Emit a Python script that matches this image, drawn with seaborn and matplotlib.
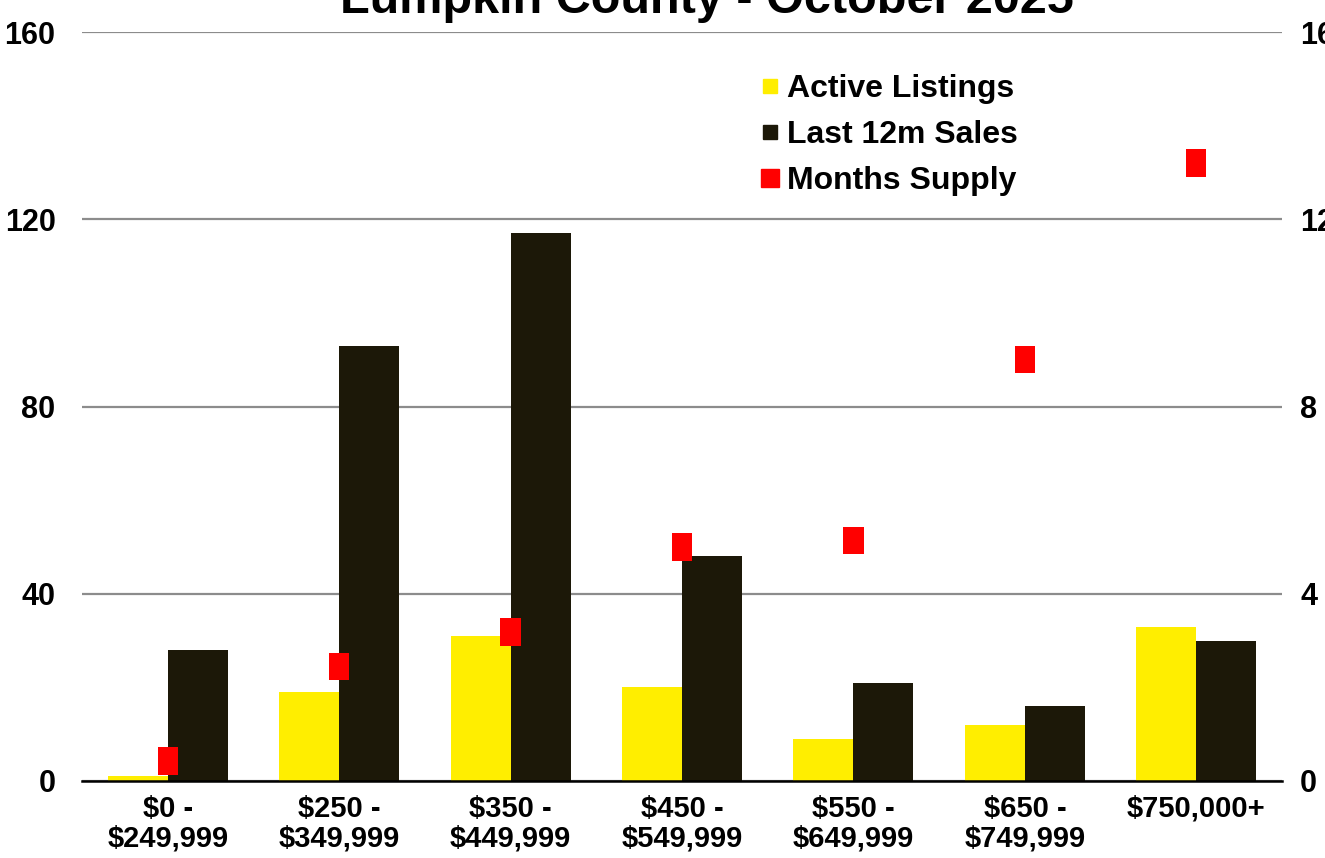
import matplotlib
matplotlib.use("Agg")
import matplotlib.pyplot as plt
from matplotlib.lines import Line2D
from matplotlib.path import Path
from matplotlib.ticker import FixedLocator
import seaborn as sns
import pandas as pd

categories = ["$0 -\n$249,999", "$250 -\n$349,999", "$350 -\n$449,999", "$450 -\n$549,999",
              "$550 -\n$649,999", "$650 -\n$749,999", "$750,000+"]
active_listings = [1, 19, 31, 20, 9, 12, 33]
last_12m_sales = [28, 93, 117, 48, 21, 16, 30]
months_supply = [0.43, 2.45, 3.18, 5.0, 5.14, 9.0, 13.2]
left_ticks = [0, 40, 80, 120, 160]
right_ticks = [0, 4, 8, 12, 16]
title = "Lumpkin County - October 2025"

YELLOW = "#FFEE00"
BLACK = "#1C1808"
RED = "#FF0000"

sns.set_theme(style="white")
plt.rcParams['font.family'] = ['Liberation Sans', 'DejaVu Sans']
plt.rcParams['text.color'] = 'black'

df = pd.DataFrame({
    "Range": categories * 2,
    "Value": active_listings + last_12m_sales,
    "Series": ["Active Listings"] * len(categories) + ["Last 12m Sales"] * len(categories),
})

fig = plt.figure(figsize=(13.25, 8.58), dpi=100)
ax = fig.add_axes([82 / 1325, 1 - 781 / 858, 1200 / 1325, 749 / 858])

sns.barplot(data=df, x="Range", y="Value", hue="Series", palette=[YELLOW, BLACK],
            saturation=1, width=0.7, gap=0, linewidth=0, legend=False, ax=ax)

ax.set_xlim(-0.5, len(categories) - 0.5)
ax.set_ylim(0, 160)
ax.set_yticks(left_ticks)
ax.set_xlabel("")
ax.set_ylabel("")
ax.set_axisbelow(True)
ax.yaxis.grid(True, color="#8C8C8C", linewidth=1.6)
ax.xaxis.grid(False)
for s in ["left", "right", "top"]:
    ax.spines[s].set_visible(False)
ax.spines["bottom"].set_color("black")
ax.spines["bottom"].set_linewidth(1.8)
ax.tick_params(axis="y", length=0, pad=19)
ax.tick_params(axis="x", which="major", length=0, pad=10)
ax.xaxis.set_minor_locator(FixedLocator([i - 0.5 for i in range(len(categories) + 1)]))
ax.tick_params(axis="x", which="minor", length=7, width=1.8, color="black", direction="out")
for lab in ax.get_yticklabels():
    lab.set_fontsize(22)
    lab.set_fontweight("bold")
    lab.set_color("black")
for lab in ax.get_xticklabels():
    lab.set_family(["Liberation Sans Narrow", "Liberation Sans"])
    lab.set_fontsize(21)
    lab.set_fontweight("bold")
    lab.set_color("black")
    lab.set_linespacing(1.08)

ax2 = ax.twinx()
rect = Path([(-0.37, -0.5), (0.37, -0.5), (0.37, 0.5), (-0.37, 0.5), (-0.37, -0.5)],
            [Path.MOVETO, Path.LINETO, Path.LINETO, Path.LINETO, Path.CLOSEPOLY])
sns.scatterplot(x=categories, y=months_supply, marker=rect, s=390, color=RED,
                edgecolor="none", linewidth=0, ax=ax2, legend=False)
ax2.set_ylim(0, 16)
ax2.set_yticks(right_ticks)
ax2.set_ylabel("")
for s in ["left", "right", "top", "bottom"]:
    ax2.spines[s].set_visible(False)
ax2.tick_params(axis="y", length=0, pad=13)
for lab in ax2.get_yticklabels():
    lab.set_fontsize(22)
    lab.set_fontweight("bold")
    lab.set_color("black")

handles = [
    Line2D([], [], linestyle="none", marker="s", markersize=9.5, color=YELLOW),
    Line2D([], [], linestyle="none", marker="s", markersize=9.5, color=BLACK),
    Line2D([], [], linestyle="none", marker="s", markersize=13, color=RED),
]
leg = fig.legend(handles, ["Active Listings", "Last 12m Sales", "Months Supply"],
                 loc="upper left", bbox_to_anchor=(760 / 1325, 1 - 74 / 858),
                 frameon=False, borderpad=0, borderaxespad=0, handlelength=0.6,
                 handletextpad=0.25, labelspacing=0.5,
                 prop={"family": "Liberation Sans", "weight": "bold", "size": 23})
for t in leg.get_texts():
    t.set_color("black")

fig.text(707 / 1325, 1 - 13 / 858, title, ha="center", va="baseline", color="black",
         family=["Liberation Sans Narrow", "Liberation Sans"], fontweight="bold", fontsize=35)

fig.savefig("out.png", dpi=100)
